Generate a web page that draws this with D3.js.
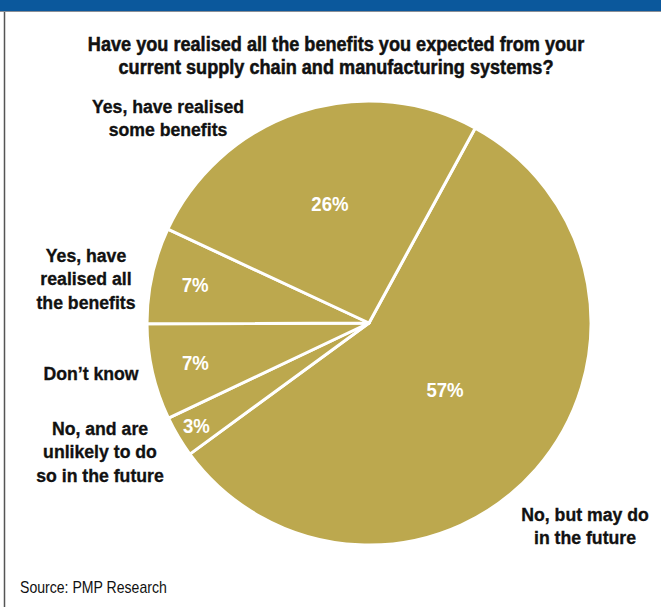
<!DOCTYPE html>
<html>
<head>
<meta charset="utf-8">
<script src="https://cdn.jsdelivr.net/npm/d3@7"></script>
<style>
  html, body { margin: 0; padding: 0; background: #fff; }
  svg { display: block; }
  text { font-family: "Liberation Sans", Arial, sans-serif; }
</style>
</head>
<body>
<svg id="chart" width="661" height="607"></svg>
<script>
'use strict';

// data, clockwise from the slice that starts at ~1 o'clock
var categories = [
  'No, but may do in the future',
  'No, and are unlikely to do so in the future',
  'Don\u2019t know',
  'Yes, have realised all the benefits',
  'Yes, have realised some benefits'
];
var values = [57, 3, 7, 7, 26];
var labelLines = [
  ['No, but may do', 'in the future'],
  ['No, and are', 'unlikely to do', 'so in the future'],
  ['Don\u2019t know'],
  ['Yes, have', 'realised all', 'the benefits'],
  ['Yes, have realised', 'some benefits']
];
var title = ['Have you realised all the benefits you expected from your',
             'current supply chain and manufacturing systems?'];
var source = 'Source: PMP Research';

// layout
var W = 661, H = 607;
var cx = 369, cy = 323, R = 222;
var pctRadius = [101, 201, 178, 178, 125];          // where each % sits
var labelAt = [[585, 514], [100, 428], [91, 373], [86, 255], [168, 106]]; // first line centre
var lineH = 23.5;
var squeeze = 0.93;   // fake a condensed face
var gold = '#bca84e';

var svg = d3.select('#chart');

// narrow text: position with translate, squeeze horizontally
function narrow(sel, x, y, k) {
  return sel.attr('transform', 'translate(' + x + ',' + y + ') scale(' + (k || squeeze) + ',1)');
}

svg.append('rect').attr('x', 0).attr('y', 0).attr('width', W).attr('height', 11).attr('fill', '#0b589c');
svg.append('line').attr('x1', 0).attr('x2', W).attr('y1', 11.5).attr('y2', 11.5)
  .attr('stroke', '#8a8f96').attr('stroke-width', 1);
svg.append('line').attr('x1', 4.5).attr('x2', 4.5).attr('y1', 12).attr('y2', H)
  .attr('stroke', '#555').attr('stroke-width', 1.5);

svg.append('g').selectAll('text').data(title).enter().append('text')
  .each(function(d, i) { narrow(d3.select(this), 336, 51 + i * 23); })
  .attr('text-anchor', 'middle')
  .attr('font-size', 19.5).attr('font-weight', 'bold').attr('fill', '#111')
  .attr('stroke', '#111').attr('stroke-width', 0.5)
  .text(function(d) { return d; });

var pie = d3.pie().sort(null).value(function(d) { return d; })
  .startAngle(28.6 * Math.PI / 180).endAngle(28.6 * Math.PI / 180 + 2 * Math.PI);
var arcs = pie(values);
var arc = d3.arc().innerRadius(0).outerRadius(R);

var g = svg.append('g').attr('transform', 'translate(' + cx + ',' + cy + ')');

g.selectAll('path').data(arcs).enter().append('path')
  .attr('d', arc)
  .attr('fill', gold)
  .attr('stroke', '#fff').attr('stroke-width', 3).attr('stroke-linejoin', 'round');

g.selectAll('text.pct').data(arcs).enter().append('text')
  .attr('class', 'pct')
  .each(function(d, i) {
    var c = d3.arc().innerRadius(pctRadius[i]).outerRadius(pctRadius[i]).centroid(d);
    narrow(d3.select(this), c[0], c[1]);
  })
  .attr('dy', '0.36em')
  .attr('text-anchor', 'middle')
  .attr('font-size', 20).attr('font-weight', 'bold').attr('fill', '#fff')
  .text(function(d) { return d.value + '%'; });

var lab = svg.append('g').selectAll('text').data(labelLines).enter().append('text')
  .attr('text-anchor', 'middle')
  .attr('font-size', 19).attr('font-weight', 'bold').attr('fill', '#111')
  .attr('stroke', '#111').attr('stroke-width', 0.35);
lab.each(function(lines, i) {
  narrow(d3.select(this), labelAt[i][0], labelAt[i][1]);
  d3.select(this).selectAll('tspan').data(lines).enter().append('tspan')
    .attr('x', 0)
    .attr('y', function(d, j) { return j * lineH; })
    .attr('dy', '0.36em')
    .text(function(d) { return d; });
});

narrow(svg.append('text'), 20, 593, 0.88)
  .attr('font-size', 16).attr('fill', '#111')
  .text(source);
</script>
</body>
</html>
